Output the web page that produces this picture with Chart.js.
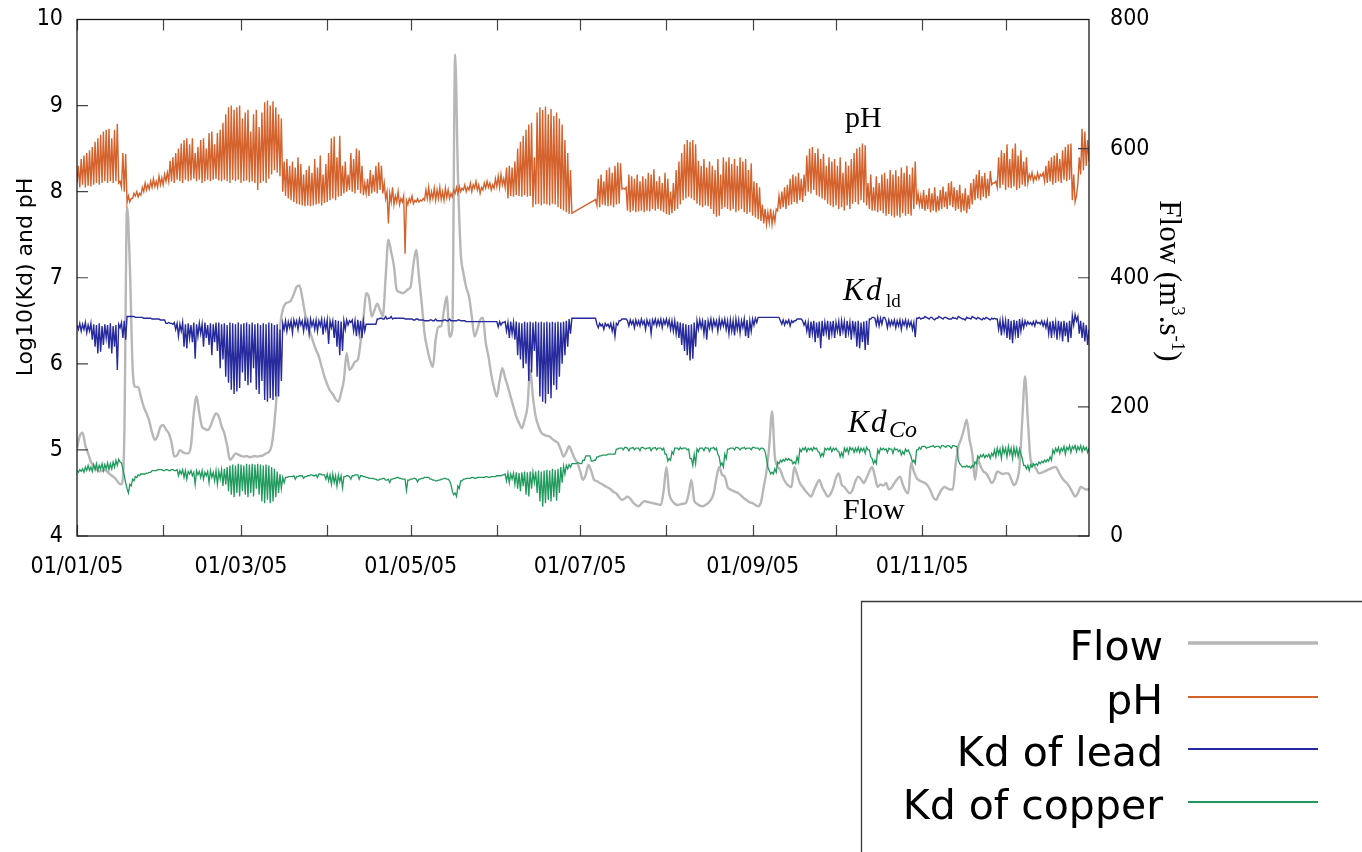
<!DOCTYPE html>
<html>
<head>
<meta charset="utf-8">
<script src="https://cdn.jsdelivr.net/npm/chart.js@4.4.1/dist/chart.umd.min.js"></script>
<style>
html,body{margin:0;padding:0;background:#fff;}
#wrap{width:1362px;height:852px;position:relative;}
</style>
</head>
<body>
<div id="wrap"><canvas id="c"></canvas></div>
<script>
// ---------- DATA (one value per day, day 0 = 01/01/05) ----------
const monthStarts = [0,31,59,90,120,151,181,212,243,273,304,334];
const monthLabels = ['01/01/05','','01/03/05','','01/05/05','','01/07/05','','01/09/05','','01/11/05',''];
const leftTicks = [4,5,6,7,8,9,10];
const rightTicks = [0,200,400,600,800];

const phLow = [
8.10,8.05,8.08,8.05,8.07,8.06,8.08,8.10,8.08,8.10,
8.12,8.10,8.12,8.10,8.12,8.10,8.05,8.00,7.87,7.88,
7.92,7.95,7.94,7.96,8.00,8.02,8.03,8.05,8.06,8.05,
8.08,8.08,8.12,8.12,8.12,8.10,8.14,8.12,8.10,8.14,
8.12,8.13,8.15,8.12,8.14,8.10,8.12,8.14,8.12,8.14,
8.15,8.13,8.12,8.14,8.12,8.10,8.14,8.12,8.14,8.10,
8.12,8.13,8.11,8.12,8.10,8.02,8.10,8.12,8.10,8.15,
8.20,8.25,8.22,8.18,8.00,7.95,7.92,7.90,7.88,7.86,
7.85,7.84,7.83,7.84,7.83,7.84,7.85,7.86,7.84,7.87,
7.88,7.90,7.92,7.90,7.94,7.95,7.98,8.00,8.02,8.00,
7.98,8.02,7.98,7.96,7.98,7.95,7.98,8.00,7.98,8.02,
7.98,7.92,7.63,7.88,7.85,7.88,7.85,7.88,7.28,7.85,
7.88,7.86,7.88,7.88,7.89,7.90,7.92,7.90,7.92,7.90,
7.92,7.91,7.90,7.93,7.92,7.94,7.98,7.98,8.00,8.02,
8.00,8.02,8.00,8.04,8.02,7.98,8.02,8.04,8.05,8.02,
8.04,8.06,8.05,8.08,8.05,7.92,7.95,7.94,7.96,7.95,
7.94,7.96,7.94,7.95,7.82,7.85,7.86,7.84,7.86,7.85,
7.84,7.86,7.85,7.82,7.80,7.78,7.76,7.74,7.75,null,
null,null,null,null,null,null,7.90,7.84,7.82,7.85,
7.84,7.83,7.84,7.82,7.85,7.86,8.03,8.03,7.78,7.76,
7.78,7.76,7.77,7.78,7.76,7.78,7.77,7.80,7.78,7.80,
7.78,7.76,7.74,7.73,7.75,7.78,7.80,7.85,7.90,7.92,
7.94,7.92,7.90,7.86,7.84,7.82,7.84,7.83,7.80,7.74,
7.71,7.72,7.80,7.82,7.80,7.78,7.80,7.76,7.78,7.80,
7.76,7.74,7.76,7.72,7.70,7.68,7.66,7.63,7.62,7.64,
7.62,7.65,7.78,7.80,7.82,7.80,7.84,7.85,7.88,7.86,
7.90,7.88,7.95,8.00,7.98,8.02,7.96,7.94,7.92,7.90,
7.86,7.84,7.82,7.84,7.80,7.82,7.78,7.84,7.80,7.86,
7.88,7.85,7.90,7.87,7.84,7.80,7.78,7.78,7.76,7.78,
7.75,7.72,7.74,7.72,7.70,7.72,7.70,7.75,7.72,7.74,
7.72,7.80,7.85,7.84,7.80,7.78,7.80,7.76,7.78,7.76,
7.78,7.80,7.82,7.80,7.84,7.82,7.78,7.80,7.76,7.78,
7.75,7.80,7.85,7.90,7.92,7.90,7.94,7.92,7.95,8.08,
8.10,8.05,8.04,8.08,8.02,8.05,8.04,8.06,8.02,8.04,
8.08,8.06,8.10,8.15,8.12,8.14,8.15,8.18,8.12,8.10,
8.12,8.08,8.10,8.12,8.10,8.14,8.12,8.14,7.90,7.88,
8.10,8.20,8.25,8.30,8.35];

const phHigh = [
8.30,8.38,8.42,8.45,8.48,8.52,8.58,8.62,8.66,8.70,
8.72,8.73,8.62,8.72,8.79,8.12,8.45,8.44,7.95,7.92,
7.98,8.00,7.98,8.05,8.10,8.08,8.12,8.15,8.12,8.18,
8.16,8.20,8.22,8.36,8.40,8.45,8.50,8.56,8.60,8.62,
8.55,8.62,8.45,8.52,8.60,8.62,8.50,8.68,8.70,8.55,
8.68,8.72,8.80,8.90,8.98,9.00,8.95,8.98,9.00,8.85,
8.92,8.95,8.70,8.90,8.95,8.75,8.92,9.04,9.06,9.00,
9.05,8.98,8.90,8.85,8.35,8.38,8.30,8.35,8.28,8.40,
8.32,8.20,8.25,8.30,8.22,8.38,8.28,8.42,8.20,8.32,
8.45,8.62,8.64,8.40,8.65,8.30,8.35,8.20,8.45,8.38,
8.50,8.48,8.30,8.10,8.15,8.25,8.20,8.30,8.34,8.30,
8.10,8.00,7.98,8.05,7.95,8.00,7.92,7.95,7.90,7.92,
7.95,7.90,7.92,7.90,7.92,8.02,8.05,8.00,8.04,8.02,
8.05,8.00,8.04,8.02,7.98,8.02,8.05,8.06,8.04,8.08,
8.05,8.10,8.08,8.12,8.08,8.05,8.10,8.12,8.10,8.08,
8.15,8.18,8.20,8.15,8.28,8.30,8.28,8.35,8.50,8.58,
8.65,8.72,8.78,8.80,8.40,8.92,8.98,8.95,8.99,8.90,
8.96,8.88,8.92,8.85,8.78,8.60,8.45,8.25,7.76,null,
null,null,null,null,null,null,7.91,8.15,8.20,8.12,
8.25,8.28,8.22,8.30,8.34,8.33,8.04,8.05,8.20,8.18,
8.15,8.20,8.12,8.18,8.15,8.22,8.20,8.26,8.12,8.18,
8.10,8.22,8.15,8.00,8.10,8.25,8.35,8.45,8.55,8.60,
8.58,8.60,8.55,8.36,8.30,8.38,8.28,8.35,8.30,8.25,
8.38,8.20,8.40,8.35,8.40,8.32,8.38,8.30,8.40,8.35,
8.38,8.25,8.33,8.12,8.10,8.05,7.85,7.80,7.76,7.80,
7.75,7.80,7.95,8.00,8.05,8.08,8.15,8.20,8.18,8.22,
8.15,8.20,8.42,8.50,8.52,8.45,8.50,8.38,8.44,8.30,
8.40,8.35,8.38,8.30,8.40,8.22,8.35,8.30,8.38,8.45,
8.50,8.52,8.56,8.54,8.10,8.20,8.05,8.18,8.10,8.20,
8.22,8.15,8.25,8.20,8.25,8.18,8.28,8.22,8.30,8.20,
8.28,8.35,7.98,7.95,8.02,7.96,8.04,7.98,8.05,7.95,
8.02,8.06,8.00,8.10,8.12,8.05,8.02,8.08,7.98,8.04,
7.96,8.10,8.15,8.20,8.25,8.18,8.22,8.15,8.24,8.10,
8.12,8.40,8.48,8.45,8.55,8.38,8.50,8.56,8.42,8.48,
8.35,8.40,8.20,8.22,8.18,8.22,8.20,8.22,8.30,8.36,
8.40,8.42,8.45,8.38,8.48,8.52,8.55,8.56,8.20,7.95,
8.40,8.73,8.70,8.60,8.62];

const leadHigh = [
6.45,6.47,6.46,6.48,6.45,6.47,6.46,6.45,6.47,6.44,
6.46,6.45,6.47,6.44,6.45,6.46,6.48,6.50,6.55,6.55,
6.55,6.54,6.54,6.54,6.53,6.53,6.53,6.52,6.52,6.52,
6.51,6.51,6.47,6.48,6.47,6.48,6.47,6.46,6.48,6.46,
6.47,6.45,6.48,6.46,6.47,6.46,6.48,6.45,6.47,6.46,
6.48,6.48,6.46,6.47,6.45,6.48,6.47,6.46,6.48,6.46,
6.47,6.48,6.46,6.48,6.46,6.47,6.45,6.47,6.46,6.48,
6.47,6.45,6.46,6.40,6.47,6.50,6.49,6.50,6.51,6.50,
6.52,6.50,6.51,6.50,6.52,6.50,6.51,6.50,6.52,6.50,
6.51,6.50,6.50,6.51,6.50,6.49,6.50,6.51,6.50,6.51,
6.50,6.51,6.50,6.50,6.46,6.46,6.46,6.46,6.52,6.53,
6.52,6.55,6.53,6.55,6.53,6.53,6.53,6.53,6.52,6.52,
6.52,6.51,6.52,6.51,6.51,6.50,6.50,6.51,6.50,6.52,
6.50,6.50,6.51,6.50,6.52,6.50,6.50,6.51,6.50,6.50,
6.49,6.49,6.49,6.49,6.49,6.49,6.49,6.49,6.49,6.49,
6.49,6.49,6.49,6.48,6.49,6.48,6.49,6.48,6.49,6.48,
6.47,6.49,6.48,6.49,6.48,6.49,6.48,6.49,6.48,6.49,
6.48,6.49,6.48,6.49,6.48,6.49,6.50,6.52,6.53,6.53,
6.53,6.53,6.53,6.53,6.53,6.53,6.53,6.46,6.47,6.46,
6.47,6.46,6.47,6.46,6.47,6.50,6.52,6.52,6.50,6.51,
6.50,6.51,6.50,6.52,6.50,6.51,6.50,6.51,6.52,6.51,
6.52,6.51,6.52,6.51,6.50,6.50,6.49,6.48,6.47,6.46,
6.45,6.46,6.48,6.50,6.51,6.50,6.51,6.50,6.52,6.51,
6.50,6.52,6.51,6.52,6.50,6.51,6.50,6.52,6.51,6.50,
6.52,6.51,6.50,6.52,6.53,6.54,6.54,6.54,6.54,6.54,
6.54,6.54,6.54,6.50,6.51,6.50,6.51,6.50,6.50,6.52,
6.52,6.50,6.49,6.48,6.49,6.50,6.48,6.49,6.50,6.48,
6.50,6.49,6.50,6.48,6.49,6.50,6.49,6.50,6.48,6.50,
6.49,6.50,6.48,6.49,6.50,6.52,6.54,6.53,6.54,6.53,
6.54,6.50,6.51,6.50,6.51,6.50,6.51,6.50,6.51,6.50,
6.49,6.48,6.53,6.54,6.53,6.55,6.53,6.54,6.52,6.53,
6.55,6.53,6.54,6.53,6.52,6.54,6.53,6.55,6.53,6.52,
6.54,6.53,6.55,6.53,6.54,6.52,6.53,6.54,6.52,6.53,
6.53,6.52,6.50,6.51,6.50,6.52,6.50,6.51,6.50,6.52,
6.50,6.50,6.49,6.48,6.49,6.50,6.48,6.50,6.49,6.50,
6.49,6.50,6.48,6.50,6.49,6.50,6.48,6.50,6.56,6.57,
6.55,6.50,6.48,6.45,6.40];

const leadLow = [
6.40,6.38,6.40,6.36,6.38,6.28,6.20,6.12,6.14,6.22,
6.30,6.18,6.12,6.20,5.93,6.42,6.30,6.28,6.55,6.55,
6.55,6.54,6.54,6.54,6.53,6.53,6.53,6.52,6.52,6.52,
6.51,6.51,6.47,6.47,6.46,6.40,6.32,6.38,6.20,6.18,
6.30,6.25,6.06,6.32,6.35,6.20,6.30,6.22,6.10,6.25,
6.15,5.95,6.05,5.85,5.78,5.70,5.65,5.68,5.72,5.90,
5.80,5.75,5.78,5.95,5.70,5.65,5.80,5.58,5.56,5.60,
5.58,5.62,5.62,5.80,6.40,6.38,6.42,6.36,6.44,6.40,
6.45,6.38,6.42,6.35,6.44,6.40,6.38,6.44,6.34,6.40,
6.23,6.42,6.30,6.20,6.10,6.15,6.40,6.45,6.48,6.38,
6.32,6.35,6.30,6.38,6.46,6.46,6.46,6.46,6.52,6.53,
6.52,6.52,6.53,6.52,6.53,6.53,6.53,6.53,6.52,6.52,
6.52,6.51,6.52,6.51,6.51,6.50,6.50,6.51,6.50,6.50,
6.50,6.50,6.51,6.50,6.50,6.50,6.50,6.51,6.50,6.50,
6.49,6.49,6.49,6.49,6.49,6.49,6.49,6.49,6.49,6.49,
6.49,6.43,6.45,6.48,6.38,6.30,6.35,6.28,6.10,6.05,
5.95,6.00,5.80,5.90,6.15,5.85,5.62,5.56,5.54,5.65,
5.60,5.75,5.70,5.85,6.00,6.10,6.20,6.35,6.53,6.53,
6.53,6.53,6.53,6.53,6.53,6.53,6.53,6.42,6.44,6.40,
6.44,6.42,6.38,6.32,6.45,6.50,6.52,6.52,6.44,6.46,
6.42,6.45,6.44,6.46,6.40,6.45,6.35,6.46,6.44,6.45,
6.42,6.46,6.44,6.40,6.38,6.35,6.30,6.22,6.15,6.10,
6.04,6.06,6.20,6.40,6.42,6.35,6.28,6.42,6.40,6.44,
6.38,6.42,6.44,6.40,6.35,6.38,6.33,6.40,6.36,6.42,
6.32,6.30,6.38,6.45,6.48,6.54,6.54,6.54,6.54,6.54,
6.54,6.54,6.54,6.46,6.45,6.47,6.44,6.48,6.50,6.52,
6.52,6.45,6.38,6.30,6.35,6.25,6.30,6.18,6.32,6.36,
6.28,6.35,6.30,6.38,6.32,6.38,6.30,6.36,6.28,6.35,
6.20,6.18,6.25,6.16,6.22,6.52,6.54,6.45,6.44,6.46,
6.54,6.42,6.44,6.45,6.42,6.44,6.40,6.45,6.42,6.44,
6.40,6.31,6.53,6.52,6.53,6.54,6.52,6.54,6.51,6.53,
6.54,6.52,6.54,6.52,6.52,6.53,6.52,6.54,6.52,6.51,
6.53,6.52,6.54,6.52,6.53,6.51,6.52,6.53,6.51,6.52,
6.52,6.40,6.33,6.38,6.30,6.28,6.24,6.35,6.30,6.38,
6.42,6.45,6.46,6.45,6.44,6.47,6.46,6.44,6.42,6.35,
6.30,6.36,6.28,6.34,6.26,6.32,6.25,6.30,6.45,6.50,
6.35,6.30,6.26,6.22,6.20];

const copperHigh = [
4.76,4.77,4.78,4.80,4.82,4.80,4.83,4.84,4.82,4.84,
4.83,4.85,4.84,4.86,4.88,4.89,4.85,4.70,4.55,4.60,
4.66,4.69,4.71,4.72,4.72,4.73,4.74,4.76,4.76,4.77,
4.77,4.76,4.77,4.76,4.77,4.76,4.77,4.76,4.77,4.76,
4.75,4.76,4.74,4.76,4.75,4.76,4.74,4.75,4.76,4.74,
4.76,4.75,4.77,4.78,4.80,4.82,4.83,4.82,4.84,4.83,
4.82,4.84,4.83,4.84,4.83,4.84,4.83,4.82,4.83,4.82,
4.80,4.78,4.75,4.72,4.68,4.68,4.69,4.69,4.70,4.69,
4.70,4.70,4.69,4.70,4.71,4.70,4.71,4.72,4.71,4.71,
4.72,4.71,4.72,4.70,4.71,4.70,4.69,4.70,4.69,4.70,
4.71,4.71,4.70,4.69,4.68,4.67,4.67,4.66,4.65,4.66,
4.67,4.65,4.66,4.66,4.67,4.68,4.67,4.66,4.66,4.65,
4.66,4.67,4.66,4.66,4.67,4.68,4.68,4.66,4.65,4.64,
4.65,4.66,4.67,4.66,4.64,4.52,4.50,4.58,4.64,4.66,
4.67,4.67,4.68,4.67,4.68,4.68,4.68,4.69,4.68,4.69,
4.69,4.70,4.70,4.71,4.72,4.73,4.72,4.73,4.74,4.73,
4.74,4.75,4.74,4.75,4.74,4.75,4.76,4.75,4.76,4.77,
4.76,4.78,4.77,4.78,4.80,4.81,4.82,4.83,4.84,4.84,
4.85,4.84,4.88,4.93,4.93,4.87,4.88,4.92,4.93,4.94,
4.94,4.95,4.95,4.95,5.01,5.02,5.02,5.03,5.02,5.02,
5.03,5.02,5.02,5.03,5.02,5.02,5.03,5.02,5.03,5.02,
5.02,5.02,4.95,4.90,4.98,5.02,5.02,5.03,5.02,5.02,
5.01,4.90,4.95,5.01,5.02,5.02,5.03,5.02,5.02,5.03,
5.02,4.92,4.85,4.95,5.01,5.02,5.02,5.03,5.02,5.02,
5.03,5.02,5.02,5.03,5.02,5.02,5.02,5.01,4.90,4.76,
4.74,4.78,4.86,4.88,4.89,4.90,4.90,4.88,4.86,4.92,
5.01,5.02,5.03,5.02,5.02,5.03,5.02,4.97,4.96,5.02,
5.02,5.03,5.02,5.02,4.98,4.97,5.02,5.02,5.03,5.02,
5.02,5.03,5.02,5.02,5.03,5.00,4.90,4.88,5.00,5.02,
5.02,5.01,5.02,5.01,5.02,5.01,5.00,4.98,5.01,5.00,
4.92,4.88,5.00,5.03,5.04,5.04,5.03,5.04,5.05,5.04,
5.04,5.05,5.04,5.05,5.04,5.05,5.04,4.88,4.82,4.81,
4.82,4.81,4.82,4.86,4.93,4.94,4.95,4.94,4.95,4.96,
5.00,5.02,5.01,5.03,5.02,5.04,5.02,5.03,5.02,5.01,
4.90,4.82,4.82,4.83,4.84,4.84,4.86,4.87,4.88,4.89,
4.92,5.00,5.02,5.03,5.02,5.04,5.03,5.05,5.04,5.05,
5.04,5.05,5.04,5.03,5.02];

const copperLow = [
4.74,4.75,4.74,4.76,4.76,4.75,4.77,4.76,4.78,4.76,
4.78,4.77,4.78,4.80,4.82,4.86,4.78,4.62,4.50,4.58,
4.64,4.68,4.70,4.72,4.72,4.73,4.74,4.76,4.76,4.77,
4.77,4.76,4.77,4.76,4.77,4.76,4.70,4.72,4.68,4.66,
4.72,4.70,4.60,4.71,4.68,4.66,4.70,4.62,4.68,4.64,
4.60,4.66,4.58,4.60,4.52,4.48,4.45,4.50,4.46,4.52,
4.48,4.45,4.50,4.46,4.55,4.48,4.40,4.38,4.42,4.38,
4.40,4.45,4.50,4.55,4.62,4.68,4.69,4.69,4.66,4.69,
4.70,4.67,4.69,4.70,4.71,4.70,4.68,4.72,4.71,4.66,
4.64,4.60,4.62,4.58,4.63,4.56,4.69,4.70,4.66,4.70,
4.71,4.66,4.70,4.69,4.68,4.67,4.67,4.66,4.65,4.66,
4.67,4.65,4.62,4.66,4.67,4.68,4.67,4.66,4.53,4.65,
4.66,4.67,4.63,4.66,4.67,4.68,4.68,4.66,4.65,4.64,
4.65,4.66,4.67,4.66,4.60,4.48,4.46,4.55,4.64,4.66,
4.67,4.67,4.68,4.67,4.68,4.68,4.68,4.69,4.68,4.69,
4.69,4.70,4.70,4.71,4.64,4.62,4.66,4.60,4.55,4.52,
4.58,4.48,4.46,4.55,4.62,4.50,4.40,4.34,4.38,4.42,
4.40,4.45,4.41,4.50,4.62,4.72,4.78,4.80,4.84,4.84,
4.85,4.84,4.88,4.93,4.93,4.87,4.88,4.92,4.93,4.94,
4.94,4.95,4.95,4.95,5.01,5.02,5.00,5.03,4.99,5.02,
5.00,5.02,4.99,5.03,5.01,5.02,4.99,5.02,5.00,5.02,
5.00,4.95,4.87,4.88,4.95,5.02,5.00,5.01,5.02,5.00,
4.90,4.82,4.84,4.98,5.02,4.99,5.02,4.98,5.02,5.00,
4.95,4.82,4.80,4.90,5.01,5.02,5.00,5.03,5.00,5.02,
5.01,5.02,5.00,5.03,5.02,5.00,5.02,4.98,4.80,4.72,
4.72,4.74,4.84,4.86,4.87,4.88,4.88,4.84,4.84,4.86,
4.98,5.00,4.98,5.00,4.99,5.01,4.98,4.92,4.93,5.00,
5.00,4.98,5.00,4.99,4.92,4.92,4.98,4.96,5.00,4.97,
4.98,4.97,4.99,4.96,5.00,4.92,4.84,4.84,4.96,5.00,
5.00,4.97,5.01,4.96,5.00,4.98,4.94,4.95,4.98,4.96,
4.86,4.84,5.00,5.01,5.04,5.02,5.03,5.04,5.03,5.04,
5.02,5.05,5.03,5.05,5.02,5.05,5.04,4.84,4.80,4.80,
4.80,4.79,4.80,4.84,4.90,4.92,4.91,4.92,4.90,4.93,
4.92,4.95,4.90,4.96,4.92,4.95,4.90,4.94,4.92,4.95,
4.82,4.78,4.76,4.80,4.82,4.82,4.84,4.85,4.86,4.87,
4.88,4.96,4.98,4.96,4.99,4.95,5.00,4.97,5.01,4.98,
5.00,4.98,5.00,4.97,4.98];

const flow = [
136,155,160,140,128,115,108,103,100,101,
102,99,95,92,88,82,80,150,510,420,
262,231,231,215,200,190,178,160,149,155,
169,172,165,159,145,123,125,133,130,128,
128,140,190,216,190,169,166,164,170,182,
190,185,170,159,140,118,122,128,126,124,
123,124,122,123,124,123,124,125,128,130,
140,175,230,320,350,360,362,365,375,386,
388,370,345,325,314,300,288,278,262,247,
235,225,220,212,208,222,242,283,257,262,
270,273,300,335,376,370,340,350,360,350,
340,400,459,440,418,381,378,376,378,382,
386,420,443,402,360,314,290,272,262,304,
324,325,350,371,309,320,746,562,440,407,
385,371,340,309,320,335,338,300,278,250,
230,216,240,260,245,231,215,200,185,175,
167,180,200,257,215,185,170,160,157,155,
154,150,147,144,134,123,130,139,130,120,
113,100,87,95,110,100,87,85,82,80,
77,75,72,68,66,60,56,58,61,58,
52,48,46,50,54,53,52,51,50,49,
48,70,107,66,55,50,48,49,50,51,
65,87,55,50,47,46,48,51,56,66,
90,107,95,92,76,72,70,68,66,62,
58,55,52,51,48,46,52,76,100,140,
193,123,108,102,90,82,78,76,107,95,
82,76,70,65,61,70,80,87,76,68,
61,65,75,90,97,80,76,70,66,72,
85,92,88,82,90,100,107,92,76,80,
78,82,72,75,82,88,92,80,70,66,
113,100,90,86,84,82,78,70,60,56,
64,72,76,74,72,72,110,138,150,165,
180,150,128,87,118,108,100,97,90,82,
88,100,98,96,97,97,88,79,85,107,
180,247,180,118,110,104,97,98,100,102,
104,106,107,100,92,86,82,76,68,61,
66,76,74,72,72];

// ---------- build point lists from the daily arrays ----------
function zig(first, second){
  const pts=[];
  for(let d=0; d<first.length; d++){
    if(first[d]==null || second[d]==null) continue;
    pts.push({x:d, y:first[d]});
    pts.push({x:d+0.5, y:second[d]});
  }
  return pts;
}
const flowPts = flow.map((v,d)=>({x:d, y:v}));

const COL = {flow:'#b7b7b7', ph:'#d4622c', lead:'#262a9c', cu:'#1f9a5c'};
const SANS = '"DejaVu Sans Condensed","DejaVu Sans",sans-serif';
const SERIF = '"Liberation Serif","DejaVu Serif",serif';

const overlay = {
  id:'overlay',
  afterDatasetsDraw(chart){
    const {ctx, chartArea:a, scales} = chart;
    ctx.save();
    // ticks (inward)
    const TL = 11;
    ctx.strokeStyle = '#444'; ctx.lineWidth = 1.2;
    ctx.beginPath();
    for(const d of monthStarts){
      const px = Math.round(scales.x.getPixelForValue(d))+0.5;
      ctx.moveTo(px, a.bottom); ctx.lineTo(px, a.bottom-TL);
      ctx.moveTo(px, a.top); ctx.lineTo(px, a.top+TL);
    }
    for(const v of leftTicks){
      const py = scales.y.getPixelForValue(v);
      ctx.moveTo(a.left, py); ctx.lineTo(a.left+TL, py);
    }
    for(const v of rightTicks){
      const py = scales.y1.getPixelForValue(v);
      ctx.moveTo(a.right, py); ctx.lineTo(a.right-TL, py);
    }
    ctx.stroke();
    // frame
    ctx.strokeStyle = '#1a1a1a'; ctx.lineWidth = 1.3;
    ctx.strokeRect(a.left, a.top, a.right-a.left, a.bottom-a.top);

    // in-plot annotations
    ctx.fillStyle = '#000';
    ctx.textAlign = 'left'; ctx.textBaseline = 'alphabetic';
    ctx.font = '30px ' + SERIF;
    ctx.fillText('pH', 845, 127);
    ctx.fillText('Flow', 843, 519);
    ctx.font = 'italic 31px ' + SERIF;
    ctx.fillText('K', 843, 300); ctx.fillText('d', 866, 300);
    ctx.font = '19px ' + SERIF;
    ctx.fillText('ld', 886, 307);
    ctx.font = 'italic 31px ' + SERIF;
    ctx.fillText('K', 848, 432); ctx.fillText('d', 871, 432);
    ctx.font = 'italic 24px ' + SERIF;
    ctx.fillText('Co', 889, 437);

    // left axis title
    ctx.save();
    ctx.translate(26, 277); ctx.rotate(-Math.PI/2);
    ctx.font = '22px "DejaVu Sans",sans-serif';
    ctx.textAlign = 'center'; ctx.textBaseline = 'middle';
    ctx.fillText('Log10(Kd) and pH', 0, 0);
    ctx.restore();

    // right axis title (rich text, rotated)
    ctx.save();
    ctx.translate(1170, 281); ctx.rotate(Math.PI/2);
    const parts = [
      {t:'Flow (m', f:'31px '+SERIF, dy:0},
      {t:'3', f:'19px '+SERIF, dy:-12},
      {t:'.s', f:'31px '+SERIF, dy:0},
      {t:'-1', f:'19px '+SERIF, dy:-12},
      {t:')', f:'31px '+SERIF, dy:0}
    ];
    let tot = 0;
    for(const p of parts){ ctx.font = p.f; p.w = ctx.measureText(p.t).width; tot += p.w; }
    let x0 = -tot/2;
    ctx.textAlign = 'left'; ctx.textBaseline = 'alphabetic';
    for(const p of parts){ ctx.font = p.f; ctx.fillText(p.t, x0, 10 + p.dy); x0 += p.w; }
    ctx.restore();

    // legend box
    ctx.strokeStyle = '#3a3a3a'; ctx.lineWidth = 1.3;
    ctx.beginPath();
    ctx.moveTo(861.5, 860); ctx.lineTo(861.5, 601.5); ctx.lineTo(1370, 601.5);
    ctx.stroke();
    const rows = [643, 697, 749, 802];
    ctx.font = '41px "DejaVu Sans",sans-serif';
    ctx.textAlign = 'right'; ctx.textBaseline = 'alphabetic';
    chart.data.datasets.forEach((ds, i) => {
      const y = rows[i];
      ctx.fillStyle = '#000';
      ctx.fillText(ds.label, 1163, y + 17);
      ctx.strokeStyle = ds.borderColor; ctx.lineWidth = ds.legendWidth;
      ctx.beginPath(); ctx.moveTo(1188, y); ctx.lineTo(1318, y); ctx.stroke();
    });
    ctx.restore();
  }
};

new Chart(document.getElementById('c'), {
  type:'line',
  data:{
    datasets:[
      {label:'Flow', data:flowPts, yAxisID:'y1', borderColor:COL.flow, borderWidth:2.4, legendWidth:3.5,
       pointRadius:0, cubicInterpolationMode:'monotone', order:2},
      {label:'pH', data:zig(phLow, phHigh), yAxisID:'y', borderColor:COL.ph, borderWidth:1.4, legendWidth:2,
       pointRadius:0, tension:0, order:1},
      {label:'Kd of lead', data:zig(leadHigh, leadLow), yAxisID:'y', borderColor:COL.lead, borderWidth:1.4, legendWidth:2,
       pointRadius:0, tension:0, order:1},
      {label:'Kd of copper', data:zig(copperHigh, copperLow), yAxisID:'y', borderColor:COL.cu, borderWidth:1.3, legendWidth:2,
       pointRadius:0, tension:0, order:1}
    ]
  },
  options:{
    responsive:true, maintainAspectRatio:false, animation:false,
    layout:{padding:{top:19.5, left:0, right:0, bottom:0}},
    plugins:{legend:{display:false}, tooltip:{enabled:false}},
    scales:{
      x:{type:'linear', position:'bottom', min:0, max:364,
         grid:{display:false, drawTicks:false}, border:{display:false},
         afterBuildTicks:(s)=>{ s.ticks = monthStarts.map(v=>({value:v})); },
         afterFit:(s)=>{ s.height = 316; s.paddingLeft = 0; s.paddingRight = 0; },
         ticks:{autoSkip:false, maxRotation:0, minRotation:0, padding:17, color:'#000',
                font:{family:SANS, size:23},
                callback:(v)=>{ const i = monthStarts.indexOf(v); return i>=0 ? monthLabels[i] : ''; }}},
      y:{position:'left', min:4, max:10,
         grid:{display:false, drawTicks:false}, border:{display:false},
         afterBuildTicks:(s)=>{ s.ticks = leftTicks.map(v=>({value:v})); },
         afterFit:(s)=>{ s.width = 77; s.paddingTop = 0; s.paddingBottom = 0; },
         ticks:{padding:14, color:'#000', font:{family:SANS, size:23}}},
      y1:{position:'right', min:0, max:800,
         grid:{display:false, drawTicks:false}, border:{display:false},
         afterBuildTicks:(s)=>{ s.ticks = rightTicks.map(v=>({value:v})); },
         afterFit:(s)=>{ s.width = 273; s.paddingTop = 0; s.paddingBottom = 0; },
         ticks:{padding:21, color:'#000', font:{family:SANS, size:23}}}
    }
  },
  plugins:[overlay]
});
</script>
</body>
</html>
